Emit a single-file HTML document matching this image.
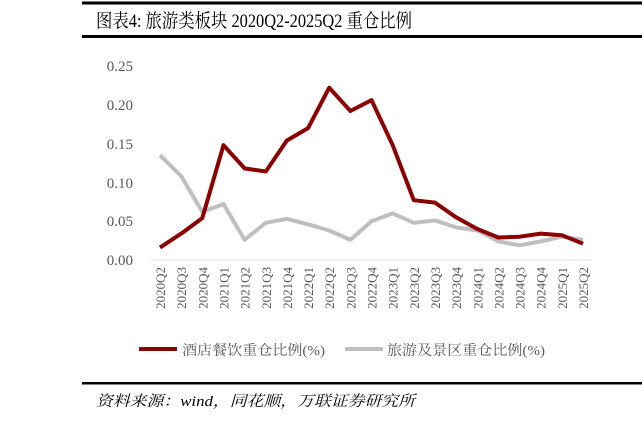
<!DOCTYPE html>
<html><head><meta charset="utf-8"><style>
html,body{margin:0;padding:0;background:#fff;}
body{width:642px;height:421px;overflow:hidden;}
</style></head><body>
<svg width="642" height="421" viewBox="0 0 642 421" xmlns="http://www.w3.org/2000/svg">
<rect x="82" y="1.5" width="560" height="3" fill="#000"/>
<rect x="82" y="35" width="560" height="3" fill="#000"/>
<text x="96" y="27" font-family="Liberation Serif, Noto Serif CJK SC, serif" font-size="19" fill="#000" textLength="316" lengthAdjust="spacingAndGlyphs">图表4:  旅游类板块 2020Q2-2025Q2 重仓比例</text>
<g font-family="Liberation Serif, serif" font-size="15" fill="#595959" text-anchor="end">
<text x="133" y="71">0.25</text>
<text x="133" y="110">0.20</text>
<text x="133" y="149">0.15</text>
<text x="133" y="188">0.10</text>
<text x="133" y="226">0.05</text>
<text x="133" y="265">0.00</text>
</g>
<line x1="151" y1="260" x2="592" y2="260" stroke="#d9d9d9" stroke-width="1"/>
<polyline fill="none" stroke="#bfbfbf" stroke-width="4" stroke-linejoin="round" points="160,155.2 181.2,176.2 202.3,211.9 223.5,204.1 244.6,239.8 265.8,222.8 286.9,218.9 308.1,224.3 329.2,230.5 350.4,239.8 371.5,221.2 392.7,213.4 413.8,222.8 435,220.4 456.1,227.4 477.3,230.5 498.4,241.4 519.6,245.3 540.7,241.4 561.9,236.7 583,239.8"/>
<polyline fill="none" stroke="#8b0000" stroke-width="4" stroke-linejoin="round" points="160,247.6 181.2,233.6 202.3,218.1 223.5,145.2 244.6,168.4 265.8,171.5 286.9,140.5 308.1,128.1 329.2,87.7 350.4,111 371.5,100.1 392.7,145.2 413.8,200.2 435,202.6 456.1,217.3 477.3,229 498.4,237.5 519.6,236.7 540.7,233.6 561.9,235.2 583,243.7"/>
<g font-family="Liberation Serif, serif" font-size="13" fill="#595959" text-anchor="end">
<text transform="translate(165,267) rotate(-90)">2020Q2</text>
<text transform="translate(186.2,267) rotate(-90)">2020Q3</text>
<text transform="translate(207.3,267) rotate(-90)">2020Q4</text>
<text transform="translate(228.5,267) rotate(-90)">2021Q1</text>
<text transform="translate(249.6,267) rotate(-90)">2021Q2</text>
<text transform="translate(270.8,267) rotate(-90)">2021Q3</text>
<text transform="translate(291.9,267) rotate(-90)">2021Q4</text>
<text transform="translate(313.1,267) rotate(-90)">2022Q1</text>
<text transform="translate(334.2,267) rotate(-90)">2022Q2</text>
<text transform="translate(355.4,267) rotate(-90)">2022Q3</text>
<text transform="translate(376.5,267) rotate(-90)">2022Q4</text>
<text transform="translate(397.7,267) rotate(-90)">2023Q1</text>
<text transform="translate(418.8,267) rotate(-90)">2023Q2</text>
<text transform="translate(440,267) rotate(-90)">2023Q3</text>
<text transform="translate(461.1,267) rotate(-90)">2023Q4</text>
<text transform="translate(482.3,267) rotate(-90)">2024Q1</text>
<text transform="translate(503.4,267) rotate(-90)">2024Q2</text>
<text transform="translate(524.6,267) rotate(-90)">2024Q3</text>
<text transform="translate(545.7,267) rotate(-90)">2024Q4</text>
<text transform="translate(566.9,267) rotate(-90)">2025Q1</text>
<text transform="translate(588,267) rotate(-90)">2025Q2</text>
</g>
<line x1="139" y1="349" x2="177" y2="349" stroke="#8b0000" stroke-width="4"/>
<line x1="345" y1="349" x2="383" y2="349" stroke="#bfbfbf" stroke-width="4"/>
<g font-family="Liberation Serif, Noto Serif CJK SC, serif" font-size="14" fill="#595959">
<text x="182" y="355" textLength="143" lengthAdjust="spacingAndGlyphs">酒店餐饮重仓比例(%)</text>
<text x="387" y="355" textLength="158" lengthAdjust="spacingAndGlyphs">旅游及景区重仓比例(%)</text>
</g>
<rect x="82" y="382" width="560" height="2.5" fill="#000"/>
<text x="96" y="406" font-family="Liberation Serif, Noto Serif CJK SC, serif" font-size="15" font-style="italic" fill="#000" textLength="319" lengthAdjust="spacingAndGlyphs">资料来源：wind，同花顺，万联证券研究所</text>
</svg>
</body></html>
